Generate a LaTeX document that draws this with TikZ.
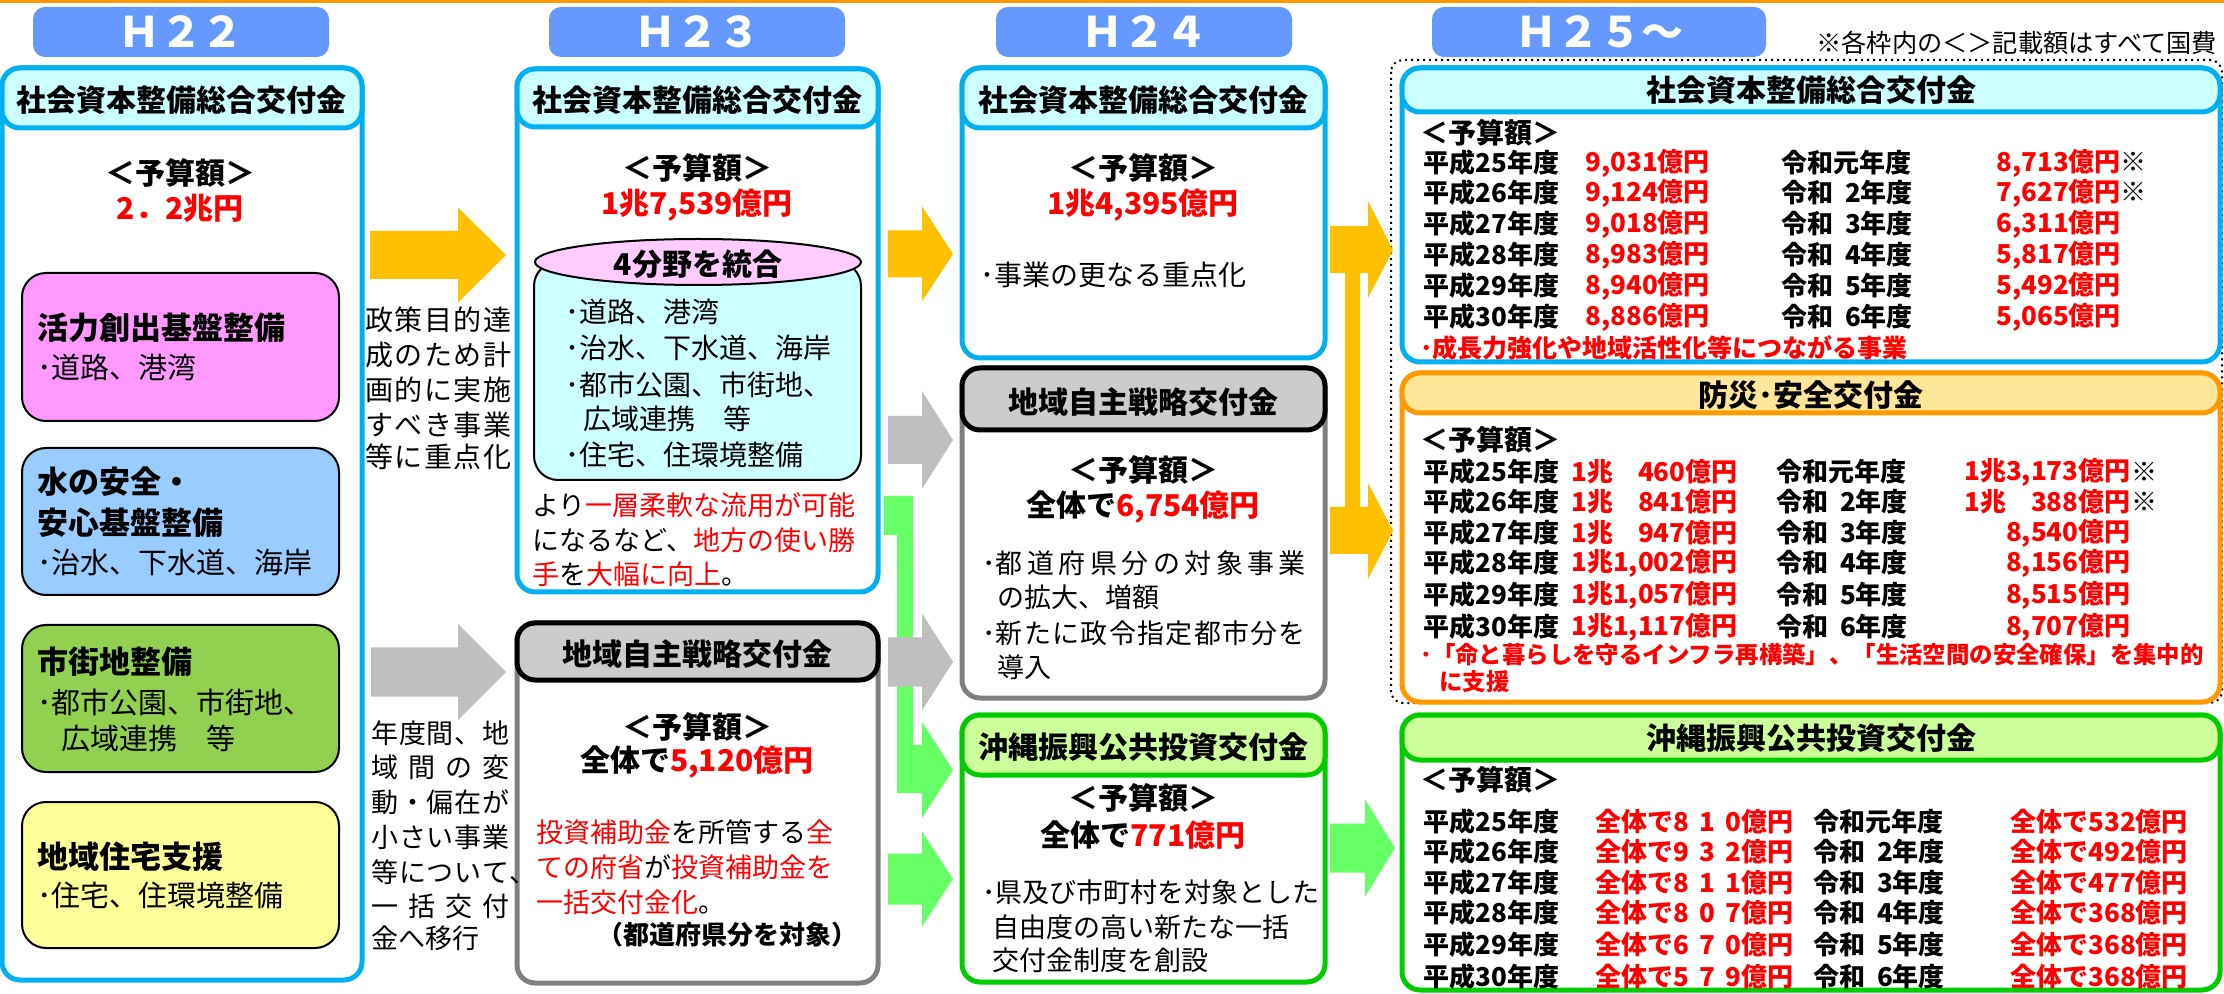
\documentclass[tikz,border=0pt]{standalone}
\usepackage{fontspec}
\setmainfont{Noto Sans CJK JP}
\usetikzlibrary{calc}
\definecolor{topline}{HTML}{FF9900}
\definecolor{tabblue}{HTML}{6699FF}
\definecolor{bb}{HTML}{00B0F0}
\definecolor{bf}{HTML}{CCFFFF}
\definecolor{gb}{HTML}{808080}
\definecolor{gf}{HTML}{CCCCCC}
\definecolor{grb}{HTML}{00CC00}
\definecolor{grf}{HTML}{CCFF99}
\definecolor{ob}{HTML}{FF9900}
\definecolor{of}{HTML}{FFE699}
\definecolor{arryel}{HTML}{FFC000}
\definecolor{arrgray}{HTML}{BFBFBF}
\definecolor{arrgrn}{HTML}{66FF66}
\definecolor{cpink}{HTML}{FF99FF}
\definecolor{cblue}{HTML}{99CCFF}
\definecolor{cgreen}{HTML}{92D050}
\definecolor{cyellow}{HTML}{FFFF99}
\definecolor{epink}{HTML}{FFCCFF}
\definecolor{jred}{HTML}{FF0000}
\newcommand\fsz[1]{\fontsize{#1}{#1}\selectfont}
\newcommand\rsp{\hspace{0.45em}}
\makeatletter
\def\spr@ad#1#2\@nil{#1\if\relax\detokenize{#2}\relax\else\hfill\spr@ad#2\@nil\fi}
\newcommand\spreadto[2]{\makebox[#1][l]{\spr@ad#2\@nil}}
\makeatother
\newcommand\panel[8]{%
 \draw[line width=2.5pt, draw=#5, fill=white, rounded corners=9pt] (#1,#2) rectangle (#3,#4);
 \draw[line width=2.5pt, draw=#6, fill=#7, rounded corners=9pt] (#1,#2) rectangle (#3,#8);}
\newcommand\blockarrow[7]{\fill[#1] (#2,#5-#6) -- (#3,#5-#6) -- (#3,#5-#7) -- (#4,#5) -- (#3,#5+#7) -- (#3,#5+#6) -- (#2,#5+#6) -- cycle;}
\begin{document}
\begin{tikzpicture}[x=0.5pt,y=-0.5pt,
  ct/.style={inner sep=0},
  lt/.style={anchor=west, inner sep=0},
  hdr/.style={ct, font=\bfseries\fsz{15}},
  amt/.style={ct, font=\bfseries\fsz{15}, text=jred},
  tabtxt/.style={ct, font=\bfseries\fsz{21}, text=white},
  subbox/.style={draw=black, line width=1pt, rounded corners=12pt},
  ttl/.style={lt, font=\bfseries\fsz{15.5}},
  sbl/.style={lt, font=\fsz{14.5}},
  bod/.style={lt, font=\fsz{13.5}},
  row/.style={lt, font=\bfseries\fsz{13}},
  rowr/.style={row, text=jred},
  rowre/.style={rowr, anchor=east}]
\useasboundingbox (0,0) rectangle (2224,994);
\fill[white] (0,0) rectangle (2224,994);
\fill[topline] (0,0) rectangle (2224,3);
% year tabs
\fill[tabblue, rounded corners=6pt] (33,7) rectangle (329,57);
\node[tabtxt] (tab22) at (181,32) {Ｈ２２};
\fill[tabblue, rounded corners=6pt] (549,7) rectangle (845,57);
\node[tabtxt] (tab23) at (697,32) {Ｈ２３};
\fill[tabblue, rounded corners=6pt] (996,7) rectangle (1292,57);
\node[tabtxt] (tab24) at (1144,32) {Ｈ２４};
\fill[tabblue, rounded corners=6pt] (1432,7) rectangle (1766,57);
\node[tabtxt] (tab25) at (1599,32) {Ｈ２５～};
\node[lt, font=\fsz{12.6}] (note) at (1816,43) {※各枠内の＜＞記載額はすべて国費};
% panels
\panel{2}{68}{362}{980}{bb}{bb}{bf}{128}
\panel{517}{69}{878}{592}{bb}{bb}{bf}{127}
\panel{517}{623}{878}{983}{gb}{black}{gf}{680}
\panel{962}{68}{1325}{358}{bb}{bb}{bf}{128}
\panel{962}{368}{1325}{698}{gb}{black}{gf}{430}
\panel{962}{715}{1325}{982}{grb}{grb}{grf}{775}
\draw[dotted, line width=1pt, rounded corners=6pt] (1391,60) rectangle (2222,703);
\panel{1402}{68}{2220}{362}{bb}{bb}{bf}{112}
\panel{1402}{373}{2220}{702}{ob}{ob}{of}{413}
\panel{1402}{715}{2220}{990}{grb}{grb}{grf}{760}
% ---- column H22
\node[hdr] (c1h) at (182,100) {社会資本整備総合交付金};
\node[hdr] (c1y) at (180,173) {＜予算額＞};
\node[amt] (c1a) at (180,208) {2．2兆円};
\draw[subbox, fill=cpink] (22,273) rectangle (339,421);
\node[ttl] (p1) at (37,328) {活力創出基盤整備};
\node[sbl] (p2) at (37,367) {･道路、港湾};
\draw[subbox, fill=cblue] (22,448) rectangle (339,595);
\node[ttl] (q1) at (37,482) {水の安全・};
\node[ttl] (q2) at (37,523) {安心基盤整備};
\node[sbl] (q3) at (37,562) {･治水、下水道、海岸};
\draw[subbox, fill=cgreen] (22,625) rectangle (339,772);
\node[ttl] (r1) at (37,662) {市街地整備};
\node[sbl] (r2) at (37,702) {･都市公園、市街地、};
\node[sbl] (r3) at (61,738) {広域連携　等};
\draw[subbox, fill=cyellow] (22,802) rectangle (339,948);
\node[ttl] (s1) at (37,857) {地域住宅支援};
\node[sbl] (s2) at (37,895) {･住宅、住環境整備};
% arrows H22 -> H23
\blockarrow{arryel}{370}{458}{506}{255}{24}{47.5}
\blockarrow{arrgray}{371}{458}{506}{672}{24.5}{48}
\node[lt, font=\fsz{14}] (ya1) at (365,320) {\spreadto{73pt}{政策目的達}};
\node[lt, font=\fsz{14}] (ya2) at (365,355) {\spreadto{73pt}{成のため計}};
\node[lt, font=\fsz{14}] (ya3) at (365,390) {\spreadto{73pt}{画的に実施}};
\node[lt, font=\fsz{14}] (ya4) at (365,425) {\spreadto{73pt}{すべき事業}};
\node[lt, font=\fsz{14}] (ya5) at (365,457) {\spreadto{73pt}{等に重点化}};
\node[lt, font=\fsz{13.5}] (ga1) at (371,733) {\spreadto{69pt}{年度間、地}};
\node[lt, font=\fsz{13.5}] (ga2) at (371,767) {\spreadto{69pt}{域間の変}};
\node[lt, font=\fsz{13.5}] (ga3) at (371,802) {\spreadto{69pt}{動・偏在が}};
\node[lt, font=\fsz{13.5}] (ga4) at (371,837) {\spreadto{69pt}{小さい事業}};
\node[lt, font=\fsz{13.5}] (ga5) at (371,872) {\spreadto{69pt}{等について}\rlap{、}};
\node[lt, font=\fsz{13.5}] (ga6) at (371,906) {\spreadto{69pt}{一括交付}};
\node[lt, font=\fsz{13.5}] (ga7) at (371,938) {金へ移行};
% ---- column H23
\node[hdr] (c2h) at (697,100) {社会資本整備総合交付金};
\node[hdr] (c2y) at (697,168) {＜予算額＞};
\node[amt] (c2a) at (697,205) {1兆7,539億円};
\draw[line width=1pt, fill=bf, rounded corners=12pt] (534,262) rectangle (861,480);
\draw[line width=1pt, fill=epink] (698,262) ellipse [x radius=81.5pt, y radius=11.5pt];
\node[hdr] (c2e) at (698,264) {4分野を統合};
\node[lt, font=\fsz{14}] (c2b1) at (565,312) {･道路、港湾};
\node[lt, font=\fsz{14}] (c2b2) at (565,348) {･治水、下水道、海岸};
\node[lt, font=\fsz{14}] (c2b3) at (565,385) {･都市公園、市街地、};
\node[lt, font=\fsz{14}] (c2b4) at (583,419) {広域連携　等};
\node[lt, font=\fsz{14}] (c2b5) at (565,455) {･住宅、住環境整備};
\node[bod] (c2t1) at (532,505) {より\textcolor{jred}{一層柔軟な流用が可能}};
\node[bod] (c2t2) at (532,540) {になるなど、\textcolor{jred}{地方の使い勝}};
\node[bod] (c2t3) at (532,574) {\textcolor{jred}{手}を\textcolor{jred}{大幅に向上}。};
\node[hdr] (c2gh) at (697,654) {地域自主戦略交付金};
\node[hdr] (c2gy) at (697,727) {＜予算額＞};
\node[hdr] (c2ga) at (697,762) {全体で\textcolor{jred}{5,120億円}};
\node[bod] (c2g1) at (536,832) {\textcolor{jred}{投資補助金}を所管する\textcolor{jred}{全}};
\node[bod] (c2g2) at (536,867) {\textcolor{jred}{ての府省}が\textcolor{jred}{投資補助金を}};
\node[bod] (c2g3) at (536,902) {\textcolor{jred}{一括交付金化}。};
\node[ct, anchor=east, font=\bfseries\fsz{13}] (c2g4) at (858,935) {（都道府県分を対象）};
% arrows H23 -> H24
\blockarrow{arryel}{888}{922}{953}{254}{23.5}{47.5}
\blockarrow{arrgray}{888}{922}{953}{440}{24}{49}
\fill[arrgrn] (884,496) -- (913,496) -- (913,745) -- (922,745) -- (922,722) -- (953,770) -- (922,818) -- (922,793) -- (897,793) -- (897,535) -- (884,535) -- cycle;
\blockarrow{arrgray}{888}{922}{953}{662}{24.5}{48.5}
\blockarrow{arrgrn}{888}{922}{953}{879}{25.5}{47.5}
% ---- column H24
\node[hdr] (c3h) at (1143,100) {社会資本整備総合交付金};
\node[hdr] (c3y) at (1143,168) {＜予算額＞};
\node[amt] (c3a) at (1143,205) {1兆4,395億円};
\node[lt, font=\fsz{14}] (c3t) at (980,275) {･事業の更なる重点化};
\node[hdr] (c3gh) at (1143,402) {地域自主戦略交付金};
\node[hdr] (c3gy) at (1143,470) {＜予算額＞};
\node[hdr] (c3ga) at (1143,507) {全体で\textcolor{jred}{6,754億円}};
\node[bod] (c3g1) at (982,563) {･\spreadto{155pt}{都道府県分の対象事業}};
\node[bod] (c3g2) at (997,597) {の拡大、増額};
\node[bod] (c3g3) at (982,633) {･\spreadto{155pt}{新たに政令指定都市分を}};
\node[bod] (c3g4) at (997,667) {導入};
\node[hdr] (c3oh) at (1143,747) {沖縄振興公共投資交付金};
\node[hdr] (c3oy) at (1143,798) {＜予算額＞};
\node[hdr] (c3oa) at (1143,835) {全体で\textcolor{jred}{771億円}};
\node[bod] (c3o1) at (982,892) {･県及び市町村を対象とした};
\node[bod] (c3o2) at (992,927) {自由度の高い新たな一括};
\node[bod] (c3o3) at (992,960) {交付金制度を創設};
% arrows H24 -> H25
\fill[arryel] (1330,226) -- (1368,226) -- (1368,201) -- (1393,250) -- (1368,298) -- (1368,273) -- (1360,273) -- (1360,507) -- (1368,507) -- (1368,483) -- (1393,531) -- (1368,579) -- (1368,554) -- (1330,554) -- (1330,507) -- (1345,507) -- (1345,273) -- (1330,273) -- cycle;
\blockarrow{arrgrn}{1330}{1365}{1395}{848}{24.5}{48.5}
% ---- column H25
\node[hdr] (c4h) at (1811,90) {社会資本整備総合交付金};
\node[lt, font=\bfseries\fsz{14}] (c4y) at (1420,133) {＜予算額＞};
\foreach \i/\y/\yr/\c in {1/163/25/元, 2/193/26/{\rsp 2}, 3/224/27/{\rsp 3}, 4/255/28/{\rsp 4}, 5/286/29/{\rsp 5}, 6/317/30/{\rsp 6}} {
  \node[row] (sA\i) at (1423,\y) {平成\yr 年度};
  \node[row] (sC\i) at (1781,\y) {令和\c 年度};
}
\foreach \i/\y/\v in {1/163/{9,031}, 2/193/{9,124}, 3/224/{9,018}, 4/255/{8,983}, 5/286/{8,940}, 6/317/{8,886}}
  \node[rowr] (sB\i) at (1585,\y) {\v 億円};
\foreach \i/\y/\v/\m in {1/163/{8,713}/※, 2/193/{7,627}/※, 3/224/{6,311}/{}, 4/255/{5,817}/{}, 5/286/{5,492}/{}, 6/317/{5,065}/{}}
  \node[rowr] (sD\i) at (1996,\y) {\v 億円\textcolor{black}{\m}};
\node[lt, font=\bfseries\fsz{12.5}, text=jred] (sN) at (1420,348) {･成長力強化や地域活性化等につながる事業};
\node[hdr] (c4oh) at (1811,395) {防災･安全交付金};
\node[lt, font=\bfseries\fsz{14}] (c4oy) at (1420,440) {＜予算額＞};
\foreach \i/\y/\yr/\c in {1/472/25/元, 2/502/26/{\rsp 2}, 3/533/27/{\rsp 3}, 4/563/28/{\rsp 4}, 5/595/29/{\rsp 5}, 6/627/30/{\rsp 6}} {
  \node[row] (oA\i) at (1423,\y) {平成\yr 年度};
  \node[row] (oC\i) at (1776,\y) {令和\c 年度};
}
\foreach \i/\y/\v in {1/472/460, 2/502/841, 3/533/947} {
  \node[rowr] (oBa\i) at (1571,\y) {1兆};
  \node[rowre] (oB\i) at (1738,\y) {\v 億円};
}
\foreach \i/\y/\v in {4/563/{1,002}, 5/595/{1,057}, 6/627/{1,117}}
  \node[rowre] (oB\i) at (1738,\y) {1兆\v 億円};
\node[rowre] (oD1) at (2131,472) {1兆3,173億円};
\node[row] (oM1) at (2131,472) {※};
\node[rowr] (oDa2) at (1964,502) {1兆};
\node[rowre] (oD2) at (2131,502) {388億円};
\node[row] (oM2) at (2131,502) {※};
\foreach \i/\y/\v in {3/533/{8,540}, 4/563/{8,156}, 5/595/{8,515}, 6/627/{8,707}}
  \node[rowre] (oD\i) at (2131,\y) {\v 億円};
\node[lt, font=\bfseries\fsz{11.7}, text=jred] (oN1) at (1420,655) {･「命と暮らしを守るインフラ再構築」、「生活空間の安全確保」を集中的};
\node[lt, font=\bfseries\fsz{11.7}, text=jred] (oN2) at (1439,682) {に支援};
\node[hdr] (c4gh) at (1811,738) {沖縄振興公共投資交付金};
\node[lt, font=\bfseries\fsz{14}] (c4gy) at (1420,780) {＜予算額＞};
\foreach \i/\y/\yr/\c in {1/822/25/元, 2/852/26/{\rsp 2}, 3/883/27/{\rsp 3}, 4/913/28/{\rsp 4}, 5/945/29/{\rsp 5}, 6/977/30/{\rsp 6}} {
  \node[row] (gA\i) at (1423,\y) {平成\yr 年度};
  \node[row] (gC\i) at (1813,\y) {令和\c 年度};
}
\foreach \i/\y/\v/\w in {1/822/{8\hfill 1\hfill 0}/532, 2/852/{9\hfill 3\hfill 2}/492, 3/883/{8\hfill 1\hfill 1}/477, 4/913/{8\hfill 0\hfill 7}/368, 5/945/{6\hfill 7\hfill 0}/368, 6/977/{5\hfill 7\hfill 9}/368} {
  \node[rowr] (gB\i) at (1595,\y) {全体で\makebox[34pt][l]{\v}億円};
  \node[rowr] (gD\i) at (2010,\y) {全体で\w 億円};
}
\end{tikzpicture}
\end{document}
